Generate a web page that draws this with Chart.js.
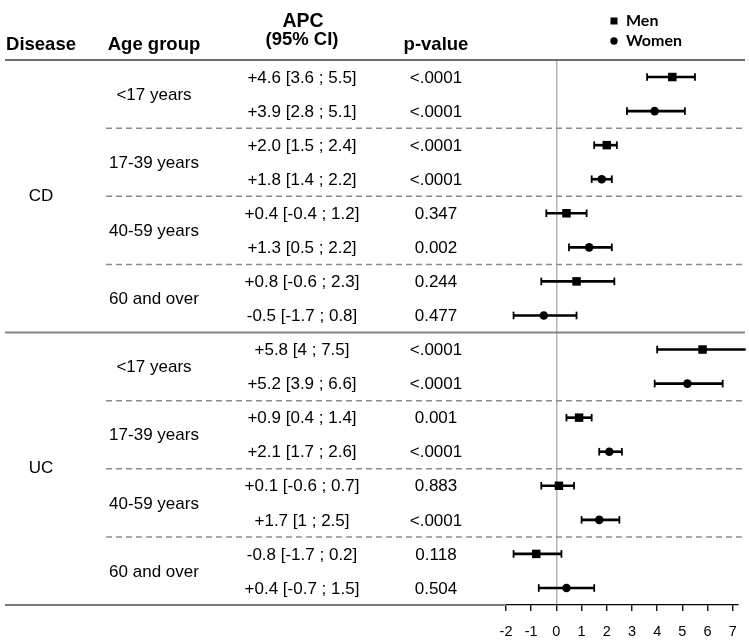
<!DOCTYPE html>
<html>
<head>
<meta charset="utf-8">
<title>APC by disease, age group and sex</title>
<script src="https://cdn.jsdelivr.net/npm/chart.js@4.4.1/dist/chart.umd.min.js"></script>
<style>
  html, body { margin: 0; padding: 0; background: #fff; }
  canvas { display: block; }
</style>
</head>
<body>
<canvas id="graficoApc" width="749" height="641"></canvas>
<script>
const diseases = ['CD', 'UC'];
const ageGroups = ['<17 years', '17-39 years', '40-59 years', '60 and over'];

// one entry per disease x age group (CD first, then UC)
const menApc  = [4.6, 2.0, 0.4, 0.8, 5.8, 0.9, 0.1, -0.8];
const menLow  = [3.6, 1.5, -0.4, -0.6, 4, 0.4, -0.6, -1.7];
const menHigh = [5.5, 2.4, 1.2, 2.3, 7.5, 1.4, 0.7, 0.2];
const menP    = ['<.0001', '<.0001', '0.347', '0.244', '<.0001', '0.001', '0.883', '0.118'];

const womenApc  = [3.9, 1.8, 1.3, -0.5, 5.2, 2.1, 1.7, 0.4];
const womenLow  = [2.8, 1.4, 0.5, -1.7, 3.9, 1.7, 1, -0.7];
const womenHigh = [5.1, 2.2, 2.2, 0.8, 6.6, 2.6, 2.5, 1.5];
const womenP    = ['<.0001', '<.0001', '0.002', '0.477', '<.0001', '<.0001', '<.0001', '0.504'];

const xTicks = [-2, -1, 0, 1, 2, 3, 4, 5, 6, 7];

// rows of the table: men then women for each group
const rows = [];
menApc.forEach((v, k) => {
    rows.push({ key: 'm' + k, apc: v, low: menLow[k], high: menHigh[k], p: menP[k] });
    rows.push({ key: 'w' + k, apc: womenApc[k], low: womenLow[k], high: womenHigh[k], p: womenP[k] });
});

const fonte = '"Liberation Sans", Arial, sans-serif';

function apcTexto(r) {
    return (r.apc > 0 ? '+' : '') + r.apc.toFixed(1) + ' [' + r.low + ' ; ' + r.high + ']';
}

function linha(ctx, x1, x2, y, cor, largura, tracejado) {
    ctx.save();
    ctx.strokeStyle = cor;
    ctx.lineWidth = largura;
    ctx.setLineDash(tracejado || []);
    ctx.beginPath();
    ctx.moveTo(x1, y);
    ctx.lineTo(x2, y);
    ctx.stroke();
    ctx.restore();
}

function texto(ctx, s, x, y, font, align, base) {
    ctx.font = font;
    ctx.textAlign = align || 'center';
    ctx.textBaseline = base || 'middle';
    ctx.fillText(s, x, y);
}

const tabela = {
    id: 'tabela',
    beforeDatasetsDraw(chart) {
        const ctx = chart.ctx, y = chart.scales.y;
        const p = i => y.getPixelForValue(i);
        const h = p(1) - p(0);
        const borda = i => p(i) - h / 2;

        linha(ctx, 5, 745, borda(0), '#6e6e6e', 2);
        [2, 4, 6, 10, 12, 14].forEach(i => linha(ctx, 106, 745, borda(i), '#8c8c8c', 1.5, [6, 4]));
        linha(ctx, 5, 745, borda(8), '#858585', 2);
        linha(ctx, 5, chart.chartArea.left, p(15) + h / 2, '#7a7a7a', 2);
    },
    afterDraw(chart) {
        const ctx = chart.ctx, y = chart.scales.y;
        const p = i => y.getPixelForValue(i);
        ctx.save();
        ctx.fillStyle = '#000';

        // header
        texto(ctx, 'Disease', 41, 50, 'bold 18.5px ' + fonte, 'center', 'alphabetic');
        texto(ctx, 'Age group', 154, 50, 'bold 18.5px ' + fonte, 'center', 'alphabetic');
        texto(ctx, 'APC', 303, 27, 'bold 19.5px ' + fonte, 'center', 'alphabetic');
        texto(ctx, '(95% CI)', 302, 45, 'bold 18.5px ' + fonte, 'center', 'alphabetic');
        texto(ctx, 'p-value', 436, 50, 'bold 18.5px ' + fonte, 'center', 'alphabetic');

        // legend
        ctx.fillRect(610.5, 17.5, 7, 7);
        ctx.beginPath();
        ctx.arc(614, 41, 3.7, 0, Math.PI * 2);
        ctx.fill();
        texto(ctx, 'Men', 626, 21, 'bold 16px Lato, sans-serif', 'left');
        texto(ctx, 'Women', 626, 41, 'bold 16px Lato, sans-serif', 'left');

        // body
        const corpo = '17px ' + fonte;
        rows.forEach((r, i) => {
            texto(ctx, apcTexto(r), 302, p(i) + 1, corpo);
            texto(ctx, r.p, 436, p(i) + 1, corpo);
        });
        menApc.forEach((v, k) => {
            texto(ctx, ageGroups[k % 4], 154, (p(2 * k) + p(2 * k + 1)) / 2 + 1, corpo);
        });
        diseases.forEach((d, j) => {
            texto(ctx, d, 41, (p(8 * j + 3) + p(8 * j + 4)) / 2, corpo);
        });
        ctx.restore();
    }
};

const ctxApc = document.getElementById('graficoApc').getContext('2d');
new Chart(ctxApc, {
    type: 'bar',
    data: {
        labels: rows.map(r => r.key),
        datasets: [
            {
                type: 'scatter',
                label: 'Men',
                data: menApc.map((v, k) => ({ x: v, y: 'm' + k })),
                pointStyle: 'rect',
                pointRadius: 6,
                backgroundColor: '#000',
                borderColor: '#000',
                borderWidth: 0,
                clip: false
            },
            {
                type: 'scatter',
                label: 'Women',
                data: womenApc.map((v, k) => ({ x: v, y: 'w' + k })),
                pointStyle: 'circle',
                pointRadius: 4.3,
                backgroundColor: '#000',
                borderColor: '#000',
                borderWidth: 0,
                clip: false
            },
            {
                type: 'scatter',
                label: 'caps',
                data: rows.flatMap(r => [{ x: r.low, y: r.key }, { x: r.high, y: r.key }]),
                pointStyle: 'line',
                pointRotation: 90,
                pointRadius: 3.8,
                borderColor: '#000',
                borderWidth: 1.8,
                clip: false
            },
            {
                type: 'bar',
                label: '95% CI',
                data: rows.map(r => ({ x: [r.low, r.high], y: r.key })),
                backgroundColor: '#000',
                barThickness: 2,
                clip: false
            }
        ]
    },
    options: {
        indexAxis: 'y',
        responsive: false,
        animation: false,
        events: [],
        layout: { padding: { top: 60, left: 506, right: 9.3, bottom: 0 } },
        plugins: {
            legend: { display: false },
            tooltip: { enabled: false }
        },
        scales: {
            y: {
                type: 'category',
                display: false,
                offset: true
            },
            x: {
                type: 'linear',
                min: -2,
                max: 7.2,
                afterBuildTicks: s => { s.ticks = xTicks.map(v => ({ value: v })); },
                afterFit: s => { s.height = 36; },
                border: { display: true, color: '#000', width: 1.3 },
                grid: {
                    color: c => (c.tick && c.tick.value === 0 ? '#b5b5b5' : 'rgba(0,0,0,0)'),
                    lineWidth: 1.5,
                    tickColor: '#000',
                    tickWidth: 1.3,
                    tickLength: 6
                },
                ticks: {
                    color: '#000',
                    font: { family: fonte, size: 14.5 },
                    padding: 12,
                    autoSkip: false,
                    maxRotation: 0
                }
            }
        }
    },
    plugins: [tabela]
});
</script>
</body>
</html>
